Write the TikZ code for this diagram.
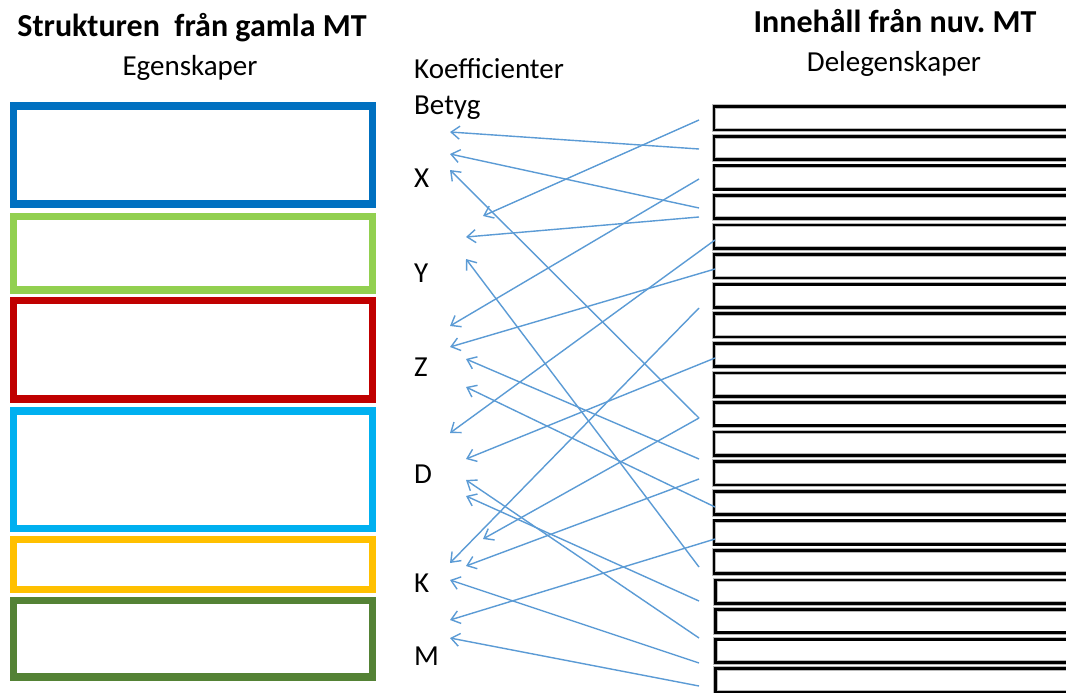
\documentclass[tikz,border=0pt]{standalone}
\usepackage{fontspec}
\setmainfont{Carlito}
\usetikzlibrary{arrows.meta}
\definecolor{cBlue}{HTML}{0070C0}
\definecolor{cGreen}{HTML}{92D050}
\definecolor{cRed}{HTML}{C00000}
\definecolor{cCyan}{HTML}{00B0F0}
\definecolor{cOrange}{HTML}{FFC000}
\definecolor{cDGreen}{HTML}{548235}
\definecolor{cConn}{HTML}{5B9BD5}
\frenchspacing
\begin{document}
\begin{tikzpicture}[x=1pt,y=-1pt,
  lbox/.style={draw=#1, line width=7.5pt, minimum width=358.8pt, inner sep=0pt, fill=white},
  rbox/.style={draw=black, line width=2.8pt, minimum width=420pt, minimum height=23.3pt, inner sep=0pt,
     preaction={draw=gray!55, line width=4.6pt}},
  title/.style={inner sep=0pt, font=\bfseries\fontsize{32}{38}\selectfont},
  sub/.style={inner sep=0pt, font=\fontsize{29}{34}\selectfont},
  lab/.style={inner sep=0pt, anchor=base west, font=\fontsize{29}{34}\selectfont},
  conn/.style={draw=cConn, line width=1.4pt, -{Straight Barb[length=8.5pt,width=13pt]}}]
\useasboundingbox (0,0) rectangle (1066,693);
\clip (0,0) rectangle (1066,693);
\fill[white] (0,0) rectangle (1066,693);

% titles
\node[title, anchor=base] (tl) at (192,37) {Strukturen\ \ från gamla MT};
\node[sub, anchor=base] (sl) at (190,76) {Egenskaper};
\node[title, anchor=base] (tr) at (895,33) {Innehåll från nuv. MT};
\node[sub, anchor=base] (sr) at (894,72) {Delegenskaper};

% left boxes
\node[lbox=cBlue, minimum height=98pt] (b1) at (193.1,155) {};
\node[lbox=cGreen, minimum height=73.5pt] (b2) at (193.1,253.25) {};
\node[lbox=cRed, minimum height=98.5pt] (b3) at (193.1,349.75) {};
\node[lbox=cCyan, minimum height=117.5pt] (b4) at (193.1,469.75) {};
\node[lbox=cOrange, minimum height=50pt] (b5) at (193.1,564.5) {};
\node[lbox=cDGreen, minimum height=76.5pt] (b6) at (193.1,638.75) {};

% middle labels
\node[lab] (koef) at (414,79) {Koefficienter};
\node[lab] (betyg) at (414,114) {Betyg};
\node[lab] (lx) at (414,187) {X};
\node[lab] (ly) at (414,282) {Y};
\node[lab] (lz) at (414,376) {Z};
\node[lab] (ld) at (414,483) {D};
\node[lab] (lk) at (414,592) {K};
\node[lab] (lm) at (414,665) {M};

% right boxes
\foreach \k in {0,...,19}{
  \pgfmathsetmacro{\yy}{118.35+29.58*\k}
  \pgfmathsetmacro{\xx}{\k>15 ? 925.7 : 924}
  \node[rbox] (r\k) at (\xx,\yy) {};
}

% connector ends
\coordinate (s1) at (699,149);  \coordinate (t1) at (450,132);
\coordinate (s2) at (699,208);  \coordinate (t2) at (450,154);
\coordinate (s3) at (699,418);  \coordinate (t3) at (450,170);
\coordinate (s4) at (699,120);  \coordinate (t4) at (483,216);
\coordinate (s5) at (699,217);  \coordinate (t5) at (466,237);
\coordinate (s6) at (699,567);  \coordinate (t6) at (466,259);
\coordinate (s7) at (699,179);  \coordinate (t7) at (450,326);
\coordinate (s8) at (715,269);  \coordinate (t8) at (450,347);
\coordinate (s9) at (699,459);  \coordinate (t9) at (466,359);
\coordinate (s10) at (715,507); \coordinate (t10) at (466,387);
\coordinate (s11) at (715,240); \coordinate (t11) at (450,433);
\coordinate (s12) at (715,358); \coordinate (t12) at (466,459);
\coordinate (s13) at (699,638); \coordinate (t13) at (466,480);
\coordinate (s14) at (699,601); \coordinate (t14) at (466,496);
\coordinate (t15) at (483,539);
\coordinate (s16) at (699,308); \coordinate (t16) at (450,563);
\coordinate (s17) at (699,479); \coordinate (t17) at (466,566);
\coordinate (s18) at (699,663); \coordinate (t18) at (450,580);
\coordinate (s19) at (715,539); \coordinate (t19) at (450,620);
\coordinate (s20) at (699,686); \coordinate (t20) at (450,638);

\foreach \i in {1,...,14,16,17,18,19,20}{
  \draw[conn] (s\i) -- (t\i);
}
\draw[conn] (s3) -- (t15);
\end{tikzpicture}
\end{document}
